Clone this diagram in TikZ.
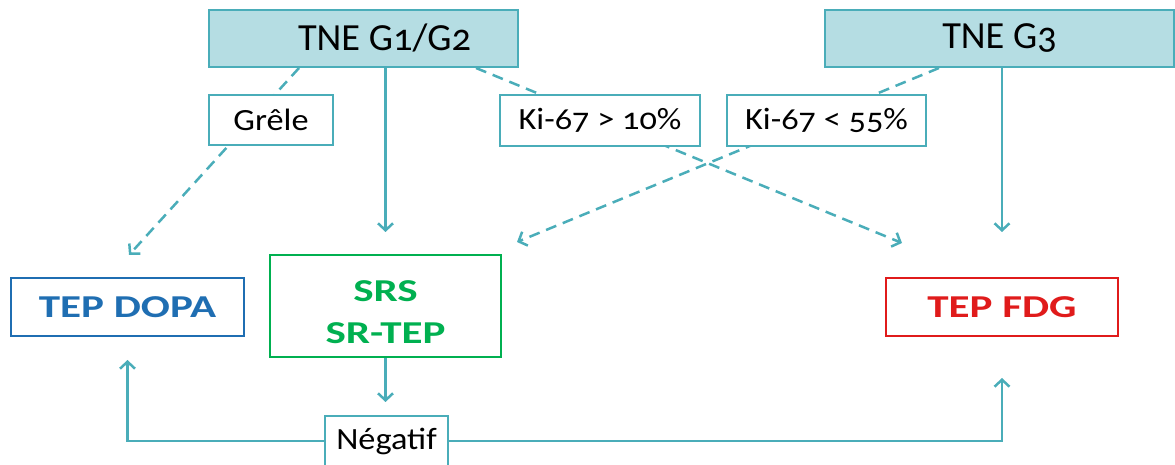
\documentclass[tikz,border=0pt]{standalone}
\usepackage{fontspec}
\setmainfont[Numbers=OldStyle]{Carlito}
\newfontfamily\labelfont[Numbers=OldStyle,FakeStretch=1.11]{Carlito}
\newfontfamily\examfont[FakeStretch=1.35]{Carlito}
\usepackage{tikz}
\usetikzlibrary{arrows.meta,positioning,calc}
\usepackage{xcolor}

\definecolor{tealline}{HTML}{4AADB9}
\definecolor{tealfill}{HTML}{B5DDE3}
\definecolor{dopablue}{HTML}{1F6EB2}
\definecolor{srsgreen}{HTML}{00B050}
\definecolor{fdgred}{HTML}{E01B1B}

\tikzset{
    gradebox/.style={draw=tealline, fill=tealfill, line width=2bp, inner sep=0pt,
        font=\fontsize{38.5}{42}\selectfont},
    labelbox/.style={draw=tealline, fill=white, line width=2bp, inner sep=0pt,
        font=\labelfont\fontsize{31}{34}\selectfont},
    exambox/.style={fill=white, line width=2bp, inner sep=0pt, align=center,
        font=\examfont\fontsize{32}{42}\selectfont\bfseries},
    link/.style={draw=tealline, line width=2.5bp, -{Straight Barb[length=7bp,width=15bp,line width=2.5bp]}},
    dashlink/.style={link, dash pattern=on 11bp off 7bp}
}

\begin{document}
\begin{tikzpicture}[x=1bp,y=-1bp]
    \useasboundingbox (0,0) rectangle (1175,465);

    % grades (top row)
    \node[gradebox, minimum width=309bp, minimum height=57bp] (g12) at (363.5,38.5) {\hspace*{42bp}TNE G1/G2};
    \node[gradebox, minimum width=349bp, minimum height=57bp] (g3) at (999.5,38.5) {TNE G3};

    % imaging
    \node[exambox, draw=dopablue, text=dopablue, minimum width=233bp, minimum height=58bp] (dopa) at (127.5,307) {TEP DOPA};
    \node[exambox, draw=srsgreen, text=srsgreen, minimum width=231bp, minimum height=102bp] (srs) at (385.5,306) {\rule{0pt}{33bp}SRS\\SR-TEP};
    \node[exambox, draw=fdgred, text=fdgred, minimum width=232bp, minimum height=58bp] (fdg) at (1002,307) {TEP FDG};
    \node[labelbox, minimum width=123bp, minimum height=50bp] (neg) at (386.5,441) {Négatif};

    % free ends of the dashed arrows
    \coordinate (dopaIn) at (129,255);
    \coordinate (fdgIn) at (902,243);
    \coordinate (srsIn) at (517,242);

    % dashed arrows (criteria boxes go on top)
    \draw[dashlink] ([xshift=91bp]g12.south west) -- (dopaIn);
    \draw[dashlink] ([xshift=-43bp]g12.south east) -- (fdgIn);
    \draw[dashlink] ([xshift=115bp]g3.south west) -- (srsIn);

    % solid arrows
    \draw[link, shorten >=22bp] (g12.south -| srs.north) -- (srs.north);
    \draw[link, shorten >=45bp] (g3.south -| fdg.north) -- (fdg.north);
    \draw[link, shorten >=13bp] (srs.south) -- (srs.south |- neg.north);
    \draw[link, shorten >=23bp] (neg.west) -| (dopa.south);
    \draw[link, shorten >=41bp] (neg.east) -| (fdg.south);

    % criteria
    \node[labelbox, minimum width=124bp, minimum height=50bp] (grele) at (271,120) {Grêle};
    \node[labelbox, minimum width=200bp, minimum height=51bp] (kiHigh) at (600,120.5) {Ki-67 > 10\%};
    \node[labelbox, minimum width=199bp, minimum height=51bp] (kiLow) at (826.5,120.5) {Ki-67 < 55\%};
\end{tikzpicture}
\end{document}
